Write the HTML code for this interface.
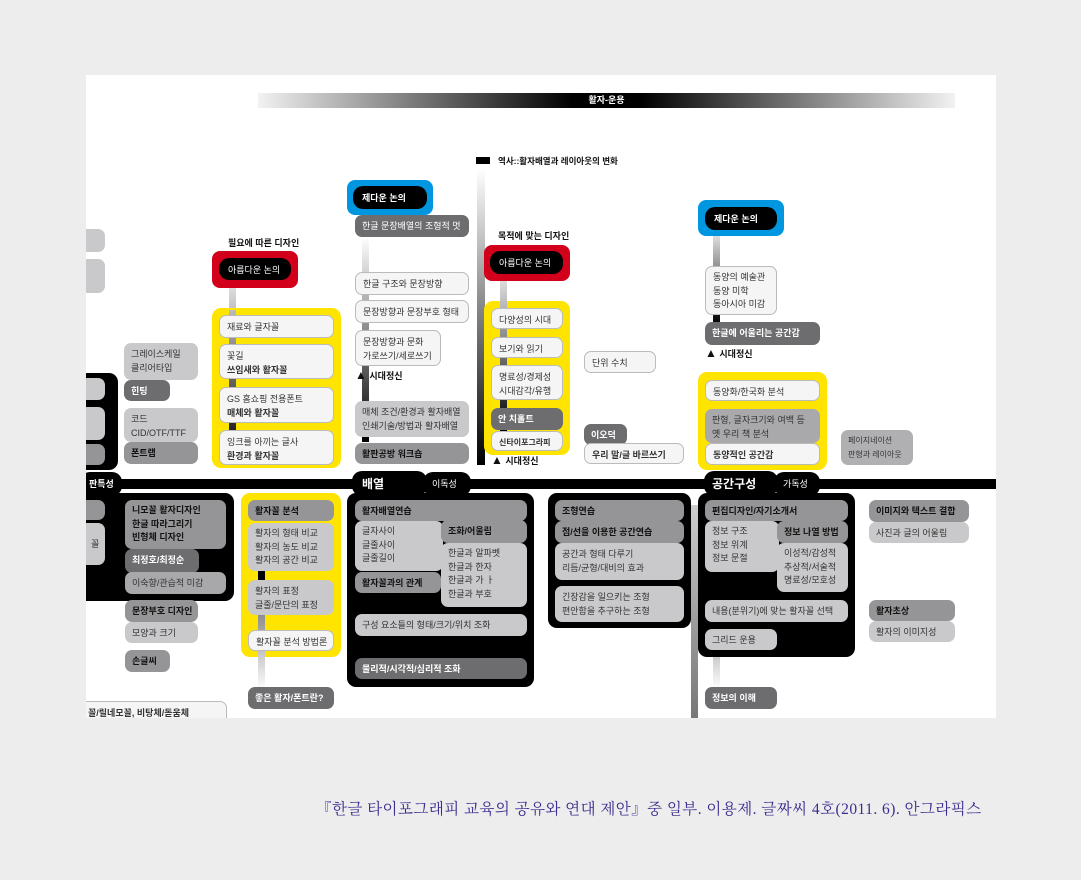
<!DOCTYPE html>
<html><head><meta charset="utf-8"><style>
body{margin:0;width:1081px;height:880px;background:#ededed;position:relative;overflow:hidden;font-family:"Liberation Sans","Noto Sans CJK KR",sans-serif}
.a{position:absolute;box-sizing:border-box}
.b{position:absolute;box-sizing:border-box;border-radius:7px;font-size:9px;line-height:14px;padding:4px 7px;color:#333;white-space:nowrap}
.w{background:#f5f5f5;border:1px solid #bbb}
.l{background:#c9c9cb}
.m{background:#959597;font-weight:bold;color:#111}
.d{background:#6d6d6f;color:#fff;font-weight:bold}
.k{background:#000;border-radius:9px}
.y{background:#ffe400;border-radius:9px}
.r{background:#d3001b;border-radius:8px}
.u{background:#0097e0;border-radius:8px}
.p{position:absolute;background:#000;color:#fff;border-radius:10px;font-size:9px;font-weight:bold;padding:5px 9px;box-sizing:border-box;white-space:nowrap}
.t{position:absolute;font-size:9px;font-weight:bold;white-space:nowrap;color:#111}
.t i{font-style:normal;font-size:12px}
.bd{font-weight:bold}
</style></head><body>
<div class="a" style="left:86px;top:75px;width:910px;height:643px;background:#fff;overflow:hidden">
<div style="position:absolute;left:-86px;top:-75px;width:1081px;height:880px">

<div class="a" style="left:258px;top:93px;width:697px;height:15px;background:linear-gradient(90deg,rgba(0,0,0,0.05),#000 45%,#000 55%,rgba(0,0,0,0.05));color:#fff;font-size:9px;font-weight:bold;text-align:center;line-height:15px">활자-운용</div>

<div class="a" style="left:86px;top:479px;width:910px;height:10px;background:#000"></div>
<div class="p" style="left:80px;top:472px;width:42px;height:24px">판특성</div>
<div class="p" style="left:352px;top:471px;width:75px;height:25px;font-size:12px;padding:4px 10px">배열</div>
<div class="p" style="left:423px;top:472px;width:48px;height:24px;font-weight:normal">이독성</div>
<div class="p" style="left:704px;top:471px;width:74px;height:25px;font-size:12px;padding:4px 8px">공간구성</div>
<div class="p" style="left:774px;top:472px;width:46px;height:24px;font-weight:normal">가독성</div>

<div class="b l" style="left:80px;top:229px;width:25px;height:23px"></div>
<div class="b l" style="left:80px;top:259px;width:25px;height:34px"></div>
<div class="a k" style="left:76px;top:373px;width:42px;height:97px"></div>
<div class="b l" style="left:80px;top:378px;width:25px;height:22px"></div>
<div class="b l" style="left:80px;top:407px;width:25px;height:33px"></div>
<div class="b m" style="left:80px;top:444px;width:25px;height:21px"></div>
<div class="a k" style="left:76px;top:493px;width:158px;height:108px"></div>
<div class="b m" style="left:80px;top:500px;width:25px;height:20px"></div>
<div class="b l" style="left:80px;top:523px;width:25px;height:42px"><span style="position:relative;left:4px;top:10px">꼴</span></div>

<div class="b l" style="left:124px;top:343px;width:74px;height:37px;line-height:14px">그레이스케일<br>클리어타입</div>
<div class="b d" style="left:124px;top:380px;width:46px;height:21px">힌팅</div>
<div class="b l" style="left:124px;top:408px;width:74px;height:34px">코드<br>CID/OTF/TTF</div>
<div class="b m" style="left:124px;top:442px;width:74px;height:22px">폰트랩</div>
<div class="b m" style="left:125px;top:500px;width:101px;height:49px;line-height:13.5px">니모꼴 활자디자인<br>한글 따라그리기<br>빈형체 디자인</div>
<div class="b d" style="left:125px;top:549px;width:74px;height:24px">최정호/최정순</div>
<div class="b" style="left:125px;top:572px;width:101px;height:22px;background:#a8a8aa">이숙향/관습적 미감</div>
<div class="b m" style="left:125px;top:600px;width:73px;height:22px">문장부호 디자인</div>
<div class="b l" style="left:125px;top:622px;width:73px;height:21px">모양과 크기</div>
<div class="b m" style="left:125px;top:650px;width:45px;height:22px">손글씨</div>
<div class="b w bd" style="left:80px;top:701px;width:147px;height:24px">꼴/릴네모꼴, 비탕체/돋움체</div>

<div class="t" style="left:228px;top:236px">필요에 따른 디자인</div>
<div class="a r" style="left:212px;top:251px;width:86px;height:37px"></div>
<div class="p" style="left:219px;top:258px;width:72px;height:22px;font-weight:normal">아름다운 논의</div>
<div class="a" style="left:229px;top:288px;width:7px;height:175px;background:linear-gradient(#ddd,#000)"></div>
<div class="a y" style="left:212px;top:308px;width:129px;height:160px"></div>
<div class="a" style="left:229px;top:310px;width:7px;height:150px;background:linear-gradient(#bbb,#000)"></div>
<div class="b w" style="left:219px;top:315px;width:115px;height:23px">재료와 글자꼴</div>
<div class="b w" style="left:219px;top:344px;width:115px;height:35px">꽃길<br><b>쓰임새와 활자꼴</b></div>
<div class="b w" style="left:219px;top:387px;width:115px;height:36px">GS 홈쇼핑 전용폰트<br><b>매체와 활자꼴</b></div>
<div class="b w" style="left:219px;top:430px;width:115px;height:35px">잉크를 아끼는 글사<br><b>환경과 활자꼴</b></div>

<div class="a y" style="left:241px;top:493px;width:100px;height:164px"></div>
<div class="a" style="left:258px;top:600px;width:7px;height:90px;background:linear-gradient(#777,#fff)"></div>
<div class="b m" style="left:248px;top:500px;width:86px;height:21px">활자꼴 분석</div>
<div class="b l" style="left:248px;top:523px;width:86px;height:48px;line-height:13.5px">활자의 형태 비교<br>활자의 농도 비교<br>활자의 공간 비교</div>
<div class="a" style="left:258px;top:571px;width:7px;height:9px;background:#000"></div>
<div class="b l" style="left:248px;top:580px;width:86px;height:35px">활자의 표정<br>글줄/문단의 표정</div>
<div class="b w" style="left:248px;top:630px;width:86px;height:21px">활자꼴 분석 방법론</div>
<div class="b d" style="left:248px;top:687px;width:86px;height:22px">좋은 활자/폰트란?</div>

<div class="a u" style="left:347px;top:180px;width:86px;height:35px"></div>
<div class="p" style="left:353px;top:186px;width:74px;height:23px">제다운 논의</div>
<div class="a" style="left:362px;top:237px;width:7px;height:205px;background:linear-gradient(#fff,#000)"></div>
<div class="b d" style="left:355px;top:215px;width:114px;height:22px;font-weight:normal">한글 문장배열의 조형적 멋</div>
<div class="b w" style="left:355px;top:272px;width:114px;height:23px">한글 구조와 문장방향</div>
<div class="b w" style="left:355px;top:300px;width:114px;height:23px">문장방향과 문장부호 형태</div>
<div class="b w" style="left:355px;top:330px;width:86px;height:36px">문장방향과 문화<br>가로쓰기/세로쓰기</div>
<div class="t" style="left:355px;top:368px"><i>▲</i> 시대정신</div>
<div class="b l" style="left:355px;top:401px;width:114px;height:36px">매체 조건/환경과 활자배열<br>인쇄기술/방법과 활자배열</div>
<div class="b m" style="left:355px;top:443px;width:114px;height:21px">활판공방 워크숍</div>

<div class="a k" style="left:347px;top:493px;width:187px;height:194px"></div>
<div class="b m" style="left:355px;top:500px;width:172px;height:21px">활자배열연습</div>
<div class="b l" style="left:355px;top:521px;width:88px;height:50px;line-height:13.5px">글자사이<br>글줄사이<br>글줄길이</div>
<div class="b m" style="left:441px;top:520px;width:86px;height:23px">조화/어울림</div>
<div class="b l" style="left:441px;top:543px;width:86px;height:64px;line-height:13.5px">한글과 알파벳<br>한글과 한자<br>한글과 가 ㅏ<br>한글과 부호</div>
<div class="b m" style="left:355px;top:572px;width:86px;height:21px">활자꼴과의 관계</div>
<div class="b l" style="left:355px;top:614px;width:172px;height:22px">구성 요소들의 형태/크기/위치 조화</div>
<div class="b d" style="left:355px;top:658px;width:172px;height:21px">물리적/시각적/심리적 조화</div>

<div class="a" style="left:476px;top:157px;width:14px;height:7px;background:#000"></div>
<div class="t" style="left:498px;top:155px;font-size:8.5px">역사::활자배열과 레이아웃의 변화</div>
<div class="a" style="left:477px;top:168px;width:8px;height:297px;background:linear-gradient(#fff,#000)"></div>
<div class="t" style="left:498px;top:229px">목적에 맞는 디자인</div>
<div class="a r" style="left:484px;top:245px;width:86px;height:36px"></div>
<div class="p" style="left:490px;top:251px;width:73px;height:23px;font-weight:normal">아름다운 논의</div>
<div class="a y" style="left:484px;top:301px;width:86px;height:154px"></div>
<div class="a" style="left:500px;top:281px;width:7px;height:150px;background:linear-gradient(#ddd,#000)"></div>
<div class="b w" style="left:491px;top:308px;width:72px;height:21px">다양성의 시대</div>
<div class="b w" style="left:491px;top:337px;width:72px;height:21px">보기와 읽기</div>
<div class="b w" style="left:491px;top:365px;width:72px;height:35px">명료성/경제성<br>시대감각/유행</div>
<div class="b d" style="left:491px;top:408px;width:72px;height:22px">안 치홀트</div>
<div class="b w bd" style="left:491px;top:431px;width:72px;height:20px;font-size:8px">신타이포그라피</div>
<div class="t" style="left:491px;top:453px"><i>▲</i> 시대정신</div>
<div class="b w" style="left:584px;top:351px;width:72px;height:22px">단위 수치</div>
<div class="b d" style="left:584px;top:424px;width:43px;height:21px">이오덕</div>
<div class="b w bd" style="left:584px;top:443px;width:100px;height:21px">우리 말/글 바르쓰기</div>

<div class="a u" style="left:698px;top:200px;width:86px;height:36px"></div>
<div class="p" style="left:705px;top:207px;width:72px;height:23px">제다운 논의</div>
<div class="a" style="left:713px;top:236px;width:7px;height:88px;background:linear-gradient(#ddd,#000)"></div>
<div class="b w" style="left:705px;top:266px;width:72px;height:49px;line-height:13.5px">동양의 예술관<br>동양 미학<br>동아시아 미감</div>
<div class="b d" style="left:705px;top:322px;width:115px;height:23px">한글에 어울리는 공간감</div>
<div class="t" style="left:705px;top:346px"><i>▲</i> 시대정신</div>
<div class="a y" style="left:698px;top:372px;width:129px;height:98px"></div>
<div class="b w" style="left:705px;top:380px;width:115px;height:21px">동양화/한국화 분석</div>
<div class="b" style="left:705px;top:409px;width:115px;height:34px;background:#a9a9ab">판형, 글자크기와 여백 등<br>옛 우리 책 분석</div>
<div class="b w bd" style="left:705px;top:443px;width:115px;height:22px">동양적인 공간감</div>
<div class="b" style="left:841px;top:430px;width:72px;height:35px;background:#b0b0b2;font-size:8px">페이지네이션<br>판형과 레이아웃</div>

<div class="a k" style="left:548px;top:493px;width:143px;height:135px"></div>
<div class="b m" style="left:555px;top:500px;width:129px;height:21px">조형연습</div>
<div class="b m" style="left:555px;top:521px;width:129px;height:22px">점/선을 이용한 공간연습</div>
<div class="b l" style="left:555px;top:543px;width:129px;height:37px">공간과 형태 다루기<br>리듬/균형/대비의 효과</div>
<div class="b l" style="left:555px;top:586px;width:129px;height:36px">긴장감을 일으키는 조형<br>편안함을 추구하는 조형</div>
<div class="a" style="left:691px;top:505px;width:7px;height:213px;background:linear-gradient(#ccc,#777)"></div>
<div class="a k" style="left:698px;top:493px;width:157px;height:164px"></div>
<div class="b m" style="left:705px;top:500px;width:143px;height:21px">편집디자인/자기소개서</div>
<div class="b l" style="left:705px;top:521px;width:74px;height:51px;line-height:13.5px">정보 구조<br>정보 위계<br>정보 문절</div>
<div class="b m" style="left:777px;top:521px;width:71px;height:22px">정보 나열 방법</div>
<div class="b l" style="left:777px;top:543px;width:71px;height:49px;line-height:13.5px">이성적/감성적<br>추상적/서술적<br>명료성/모호성</div>
<div class="b l" style="left:705px;top:600px;width:143px;height:22px">내용(분위기)에 맞는 활자꼴 선택</div>
<div class="b l" style="left:705px;top:629px;width:72px;height:21px">그리드 운용</div>
<div class="a" style="left:713px;top:657px;width:7px;height:32px;background:linear-gradient(#ccc,#fff)"></div>
<div class="b d" style="left:705px;top:687px;width:72px;height:22px">정보의 이해</div>
<div class="b m" style="left:869px;top:500px;width:100px;height:22px">이미지와 텍스트 결합</div>
<div class="b l" style="left:869px;top:522px;width:100px;height:21px">사진과 글의 어울림</div>
<div class="b m" style="left:869px;top:600px;width:86px;height:21px">활자초상</div>
<div class="b l" style="left:869px;top:621px;width:86px;height:21px">활자의 이미지성</div>
</div></div>

<div class="a" style="left:316px;top:797px;font-size:15.5px;letter-spacing:0.45px;color:#3b2d8f;white-space:nowrap;font-family:'Liberation Serif','Noto Serif CJK SC',serif">『한글 타이포그래피 교육의 공유와 연대 제안』중 일부. 이용제. 글짜씨 4호(2011. 6). 안그라픽스</div>
</body></html>
